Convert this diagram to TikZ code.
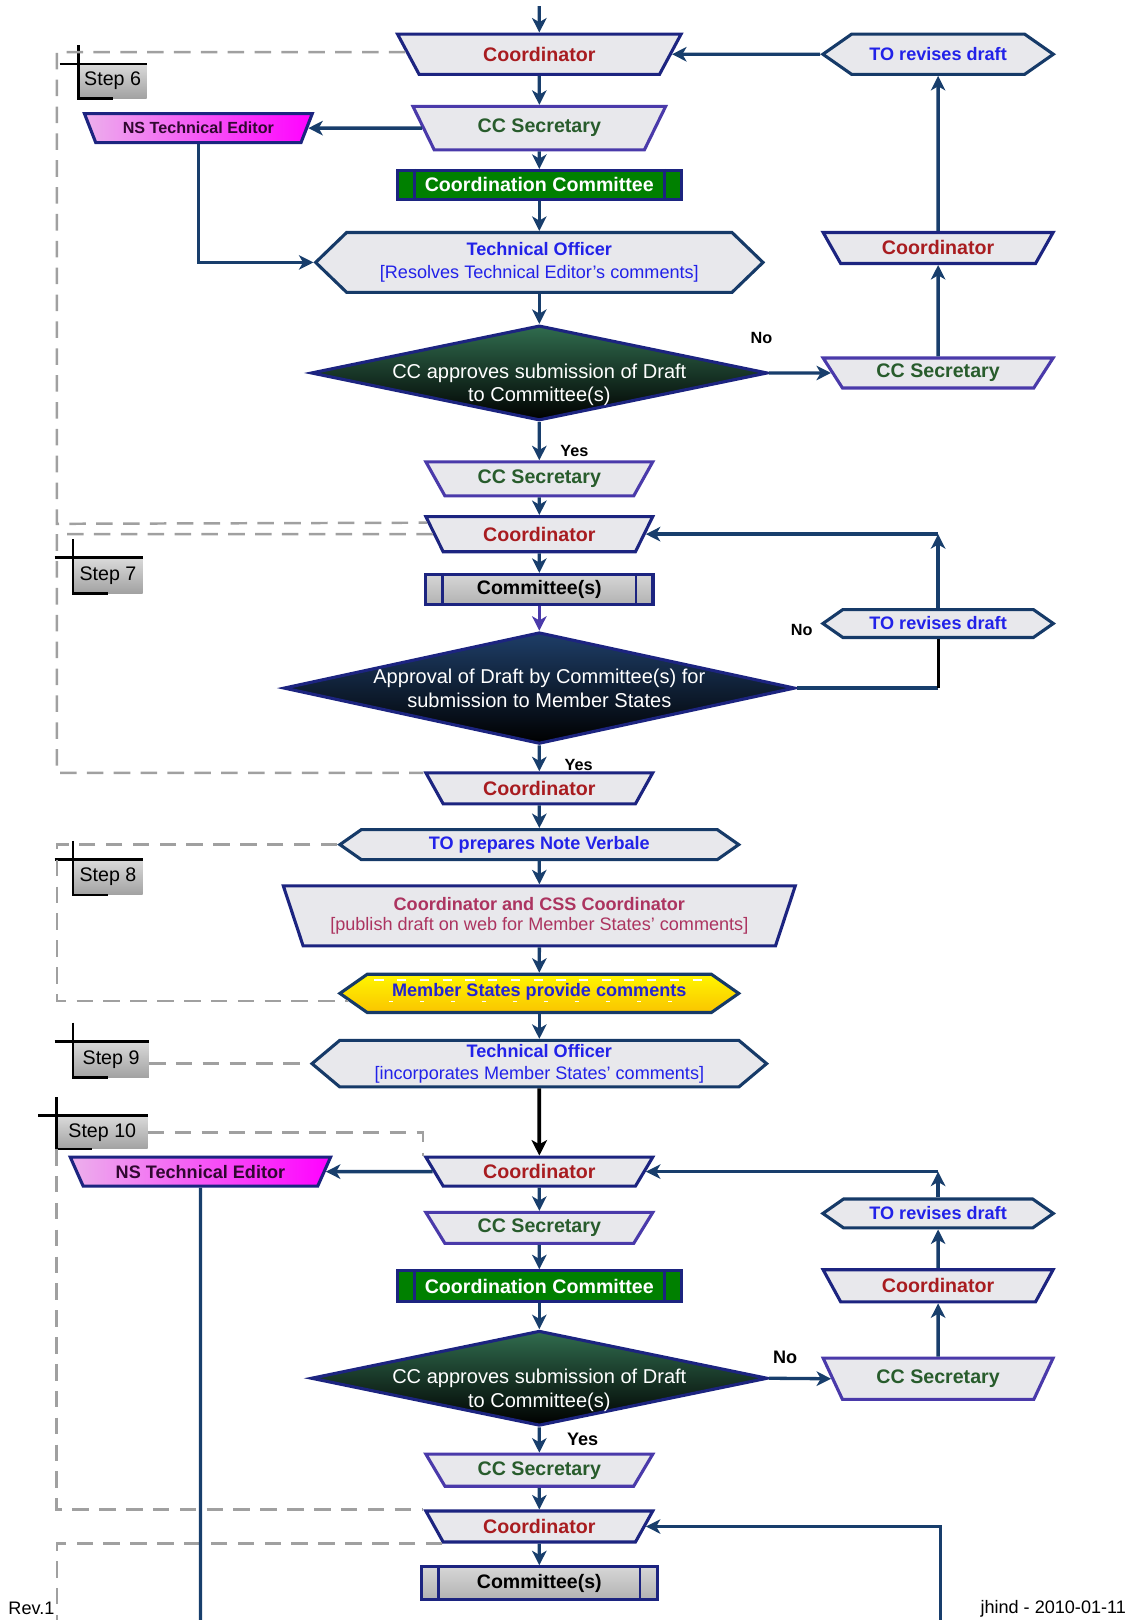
\documentclass[tikz,border=0pt]{standalone}
\usepackage{fontspec}
\setmainfont{Liberation Sans}
\usepackage{xcolor}
\usepackage{tikz}
\usetikzlibrary{shapes.geometric,shapes.symbols,arrows.meta,calc}

\definecolor{navyline}{RGB}{28,36,128}
\definecolor{purpleline}{RGB}{74,58,170}
\definecolor{hexline}{RGB}{22,58,104}
\definecolor{flowline}{RGB}{24,62,108}
\definecolor{boxgray}{RGB}{232,232,236}
\definecolor{coordred}{RGB}{168,28,32}
\definecolor{secgreen}{RGB}{40,92,44}
\definecolor{toblue}{RGB}{34,34,232}
\definecolor{cssred}{RGB}{172,52,96}
\definecolor{ccgreen}{RGB}{0,128,0}
\definecolor{editpink}{RGB}{236,176,236}
\definecolor{editdark}{RGB}{48,8,48}
\definecolor{dashgray}{RGB}{160,160,160}
\definecolor{steptop}{RGB}{218,218,218}
\definecolor{stepbot}{RGB}{162,162,162}
\definecolor{cmtop}{RGB}{214,214,214}
\definecolor{cmbot}{RGB}{178,178,178}
\definecolor{diagreen}{RGB}{48,108,78}
\definecolor{dianavy}{RGB}{30,62,104}
\definecolor{msctop}{RGB}{255,246,0}
\definecolor{mscbot}{RGB}{250,196,0}
\definecolor{mscblue}{RGB}{36,36,210}

\newcommand{\bigbold}{\fontsize{19}{22}\selectfont\bfseries}
\newcommand{\midbold}{\fontsize{17.5}{21}\selectfont\bfseries}
\newcommand{\midreg}{\fontsize{17.5}{21}\selectfont}
\newcommand{\diafont}{\fontsize{19.4}{23}\selectfont}
\newcommand{\stepfont}{\fontsize{19}{22}\selectfont}
\newcommand{\smallbold}{\fontsize{15.7}{18}\selectfont\bfseries}

\begin{document}
\begin{tikzpicture}[x=1pt,y=1pt,yscale=-1,xscale=1,
  trap/.style={trapezium, trapezium left angle=125, trapezium right angle=125, trapezium stretches=true, line width=3pt, fill=boxgray, inner sep=0pt},
  coordbox/.style={trap, draw=navyline, text=coordred, font=\bigbold},
  secbox/.style={trap, draw=purpleline, text=secgreen, font=\bigbold},
  editbox/.style={trap, draw=navyline, left color=editpink, middle color=editpink!85!magenta, right color=magenta, text=editdark},
  hexbox/.style={signal, signal to=east and west, signal pointer angle=70, draw=hexline, line width=3pt, fill=boxgray, inner sep=0pt, text=toblue, align=center},
  procbox/.style={rectangle, draw=navyline, line width=3pt, inner sep=0pt},
  procbar/.style={draw=navyline, line width=2.5pt},
  diabox/.style={diamond, draw=navyline, line width=3pt, inner sep=0pt},
  diatext/.style={align=center, text=white, font=\diafont, inner sep=0pt},
  steplabel/.style={rectangle, top color=steptop, bottom color=stepbot, inner sep=0pt, font=\stepfont},
  stepmark/.style={draw=black, line width=2.6pt},
  stepline/.style={draw=dashgray, line width=2.4pt, dash pattern=on 16pt off 10pt},
  flow/.style={draw=flowline, line width=3.2pt, -{Stealth[length=14pt,width=14pt,inset=4pt]}},
  plainflow/.style={draw=flowline, line width=3.2pt},
  yesno/.style={font=\smallbold, inner sep=0pt}
]
\useasboundingbox (0,0) rectangle (1098,1568);

% Footer
\node[font=\midreg, anchor=west, inner sep=0pt] (rev) at (8,1557) {Rev.1};
\node[font=\midreg, anchor=east, inner sep=0pt] (date) at (1090,1557) {jhind - 2010-01-11};

%Shape: Step 6 block
\node[coordbox, minimum width=275pt, minimum height=39pt] (co1) at (522,52.5) {Coordinator};
\node[secbox, minimum width=245pt, minimum height=42pt] (ccs1) at (522,124) {CC Secretary};
\node[editbox, minimum width=221pt, minimum height=28pt, font=\fontsize{15.6}{18}\selectfont\bfseries] (nte1) at (192,124) {NS Technical Editor};
\node[procbox, fill=ccgreen, text=white, font=\bigbold, minimum width=275pt, minimum height=28pt] (ccm1) at (522,179) {Coordination Committee};
\draw[procbar] ($(ccm1.north west)+(18,0)$) -- ($(ccm1.south west)+(18,0)$);
\draw[procbar] ($(ccm1.north east)+(-18,0)$) -- ($(ccm1.south east)+(-18,0)$);
\node[hexbox, signal pointer angle=88, font=\fontsize{17.5}{22}\selectfont, minimum width=433pt, minimum height=58pt] (to1) at (522,254) {{\bfseries Technical Officer}\\{[Resolves Technical Editor's comments]}};
\node[diabox, top color=diagreen, bottom color=black, minimum width=442pt, minimum height=92pt] (dia1) at (522,361) {};
\node[diatext] (dia1t) at (522,372.5) {CC approves submission of Draft\\to Committee(s)};
\node[secbox, minimum width=223pt, minimum height=29pt] (ccs1r) at (908,361) {CC Secretary};
\node[coordbox, minimum width=223pt, minimum height=30pt] (co1r) at (908,240) {Coordinator};
\node[hexbox, font=\midbold, minimum width=223pt, minimum height=39pt] (rev1) at (908,52.5) {TO revises draft};
\node[secbox, minimum width=220pt, minimum height=33pt] (ccs2) at (522,463.5) {CC Secretary};

%Shape: Step 7 block
\node[coordbox, minimum width=220pt, minimum height=34pt] (co2) at (522,517) {Coordinator};
\node[procbox, top color=cmtop, bottom color=cmbot, font=\fontsize{18.9}{22}\selectfont\bfseries, minimum width=220pt, minimum height=29pt] (cmt1) at (522,570.5) {Committee(s)};
\draw[procbar] ($(cmt1.north west)+(18,0)$) -- ($(cmt1.south west)+(18,0)$);
\draw[procbar] ($(cmt1.north east)+(-18,0)$) -- ($(cmt1.south east)+(-18,0)$);
\node[diabox, top color=dianavy, bottom color=black, minimum width=495pt, minimum height=108pt] (dia2) at (522,666) {};
\node[diatext] (dia2t) at (522,666.5) {Approval of Draft by Committee(s) for\\submission to Member States};
\node[hexbox, font=\midbold, minimum width=223pt, minimum height=27pt] (rev2) at (908,603.5) {TO revises draft};
\node[yesno] (yes2) at (560,740) {Yes};
\node[coordbox, minimum width=220pt, minimum height=30pt] (co3) at (522,763) {Coordinator};

%Shape: Step 8 block
\node[hexbox, font=\midbold, minimum width=386pt, minimum height=29pt] (tonv) at (522,817.5) {TO prepares Note Verbale};
\node[trap, trapezium left angle=115, trapezium right angle=115, draw=navyline, text=cssred, align=center, font=\fontsize{17.5}{20}\selectfont, minimum width=497pt, minimum height=58pt] (css) at (522,886.5) {{\bfseries Coordinator and CSS Coordinator}\\{[publish draft on web for Member States' comments]}};
\node[hexbox, top color=msctop, bottom color=mscbot, text=mscblue, font=\midbold, minimum width=386pt, minimum height=37pt] (msc) at (522,961.5) {};
\draw[white, line width=2pt, dash pattern=on 9pt off 13pt] ($(msc.west)+(36,-13)$) -- ($(msc.east)+(-36,-13)$);
\draw[white, line width=1.5pt, dash pattern=on 4pt off 26pt] ($(msc.west)+(50,8)$) -- ($(msc.east)+(-50,8)$);
\node[font=\midbold, text=mscblue, inner sep=0pt] (msct) at (522,960) {Member States provide comments};

%Shape: Step 9 block
\node[hexbox, signal pointer angle=80, font=\fontsize{17.5}{21}\selectfont, minimum width=440pt, minimum height=45pt] (to2) at (522,1029.5) {{\bfseries Technical Officer}\\{[incorporates Member States' comments]}};

%Shape: Step 10 block
\node[coordbox, minimum width=220pt, minimum height=28pt] (co4) at (522,1134) {Coordinator};
\node[editbox, minimum width=252pt, minimum height=28pt, font=\midbold] (nte2) at (194,1134) {NS Technical Editor};
\node[secbox, minimum width=220pt, minimum height=30pt] (ccs3) at (522,1188.5) {CC Secretary};
\node[procbox, fill=ccgreen, text=white, font=\bigbold, minimum width=275pt, minimum height=30pt] (ccm2) at (522,1245) {Coordination Committee};
\draw[procbar] ($(ccm2.north west)+(18,0)$) -- ($(ccm2.south west)+(18,0)$);
\draw[procbar] ($(ccm2.north east)+(-18,0)$) -- ($(ccm2.south east)+(-18,0)$);
\node[diabox, top color=diagreen, bottom color=black, minimum width=442pt, minimum height=92pt] (dia3) at (522,1334) {};
\node[diatext] (dia3t) at (522,1345.5) {CC approves submission of Draft\\to Committee(s)};
\node[secbox, minimum width=223pt, minimum height=40pt] (ccs3r) at (908,1334.5) {CC Secretary};
\node[coordbox, minimum width=223pt, minimum height=31pt] (co4r) at (908,1244.5) {Coordinator};
\node[hexbox, font=\midbold, minimum width=223pt, minimum height=28pt] (rev3) at (908,1174.5) {TO revises draft};
\node[secbox, minimum width=220pt, minimum height=31pt] (ccs4) at (522,1423) {CC Secretary};
\node[coordbox, minimum width=220pt, minimum height=30pt] (co5) at (522,1477.5) {Coordinator};
\node[procbox, top color=cmtop, bottom color=cmbot, font=\fontsize{18.9}{22}\selectfont\bfseries, minimum width=228pt, minimum height=32pt] (cmt2) at (522,1532.5) {Committee(s)};
\draw[procbar] ($(cmt2.north west)+(18,0)$) -- ($(cmt2.south west)+(18,0)$);
\draw[procbar] ($(cmt2.north east)+(-18,0)$) -- ($(cmt2.south east)+(-18,0)$);

% Text Node
\node[yesno] (no1) at (737,327) {No};
\node[yesno] (yes1) at (556,437) {Yes};
\node[yesno] (no2) at (776,610) {No};
\node[yesno, font=\fontsize{17.5}{20}\selectfont\bfseries] (no3) at (760,1314) {No};
\node[yesno, font=\fontsize{17.5}{20}\selectfont\bfseries] (yes3) at (564,1393) {Yes};

%Step labels
\node[steplabel, minimum width=66pt, minimum height=33pt] (s6) at (109,78.5) {Step 6};
\draw[stepmark] ($(s6.north west)+(-18,0)$) -- (s6.north east);
\draw[stepmark] ($(s6.north west)+(0,-18)$) -- (s6.south west) -- ($(s6.south west)+(34,0)$);
\node[steplabel, minimum width=67pt, minimum height=34pt] (s7) at (104.5,557) {Step 7};
\draw[stepmark] ($(s7.north west)+(-18,0)$) -- (s7.north east);
\draw[stepmark] ($(s7.north west)+(0,-18)$) -- (s7.south west) -- ($(s7.south west)+(34,0)$);
\node[steplabel, minimum width=67pt, minimum height=34pt] (s8) at (104.5,849) {Step 8};
\draw[stepmark] ($(s8.north west)+(-18,0)$) -- (s8.north east);
\draw[stepmark] ($(s8.north west)+(0,-18)$) -- (s8.south west) -- ($(s8.south west)+(34,0)$);
\node[steplabel, minimum width=73pt, minimum height=35pt] (s9) at (107.5,1025.5) {Step 9};
\draw[stepmark] ($(s9.north west)+(-18,0)$) -- (s9.north east);
\draw[stepmark] ($(s9.north west)+(0,-18)$) -- (s9.south west) -- ($(s9.south west)+(34,0)$);
\node[steplabel, minimum width=88pt, minimum height=32pt] (s10) at (99,1096) {Step 10};
\draw[stepmark] ($(s10.north west)+(-18,0)$) -- (s10.north east);
\draw[stepmark] ($(s10.north west)+(0,-18)$) -- (s10.south west) -- ($(s10.south west)+(34,0)$);

%Dashed step frames
\draw[stepline] ($(co1.top left corner)!0.45!(co1.bottom left corner)$) -- (55,50.5) -- (55,507) -- ($(co2.top left corner)!0.2!(co2.bottom left corner)$ |- 0,507);
\draw[stepline] (co2.west) -- (55,517) -- (55,748) -- (co3.top left corner |- 0,748);
\draw[stepline] (tonv.west) -- (55,817.5) -- (55,969) -- ($(msc.west)+(10,7.5)$);
\draw[stepline] (s9.east |- to2.west) -- (to2.west);
\draw[stepline] (s10.east) -- (co4.top left corner |- s10.east) -- (co4.top left corner);
\draw[stepline] (s10.south west) |- (co5.top left corner);
\coordinate (frameout) at (55,1568);
\draw[stepline] (co5.bottom left corner) -- (frameout |- co5.bottom left corner) -- (frameout);

%Connectors
\coordinate (entry) at (522,6);
\draw[flow] (entry) -- (co1.north);
\draw[flow] (co1.south) -- (ccs1.north);
\draw[flow] (ccs1.west) -- (nte1.east);
\draw[flow] (ccs1.south) -- (ccm1.north);
\draw[flow] (ccm1.south) -- (to1.north);
\draw[flow] (nte1.south) |- (to1.west);
\draw[flow] (to1.south) -- (dia1.north);
\draw[flow] (dia1.east) -- (ccs1r.west);
\draw[flow] (ccs1r.north) -- (co1r.south);
\draw[flow] (co1r.north) -- (rev1.south);
\draw[flow] (rev1.west) -- (co1.east);
\draw[flow] (dia1.south) -- (ccs2.north);
\draw[flow] (ccs2.south) -- (co2.north);
\draw[flow] (co2.south) -- (cmt1.north);
\draw[flow, draw=purpleline] (cmt1.south) -- (dia2.north);
\coordinate (nocorner) at (dia2.east -| rev2.south);
\draw[plainflow] (dia2.east) -- (nocorner);
\draw[line width=3pt] (nocorner) -- (rev2.south);
\coordinate (loop2) at (rev2.north |- co2.east);
\draw[flow] (rev2.north) -- (loop2);
\draw[flow] (loop2) -- (co2.east);
\draw[flow] (dia2.south) -- (co3.north);
\draw[flow] (co3.south) -- (tonv.north);
\draw[flow] (tonv.south) -- (css.north);
\draw[flow] (css.south) -- (msc.north);
\draw[flow] (msc.south) -- (to2.north);
\draw[line width=3.6pt, -{Stealth[length=15pt,width=15pt,inset=4pt]}] (to2.south) -- (co4.north);
\draw[flow] (co4.west) -- (nte2.east);
\coordinate (editout) at (194,1568);
\draw[plainflow] (nte2.south) -- (editout);
\draw[flow] (co4.south) -- (ccs3.north);
\draw[flow] (ccs3.south) -- (ccm2.north);
\draw[flow] (ccm2.south) -- (dia3.north);
\draw[flow] (dia3.east) -- (ccs3r.west);
\draw[flow] (ccs3r.north) -- (co4r.south);
\draw[flow] (co4r.north) -- (rev3.south);
\coordinate (loop3) at (rev3.north |- co4.east);
\draw[flow] (rev3.north) -- (loop3);
\draw[flow] (loop3) -- (co4.east);
\draw[flow] (dia3.south) -- (ccs4.north);
\draw[flow] (ccs4.south) -- (co5.north);
\draw[flow] (co5.south) -- (cmt2.north);
\coordinate (retin) at (910,1568);
\draw[flow] (retin) |- (co5.east);

\end{tikzpicture}
\end{document}
